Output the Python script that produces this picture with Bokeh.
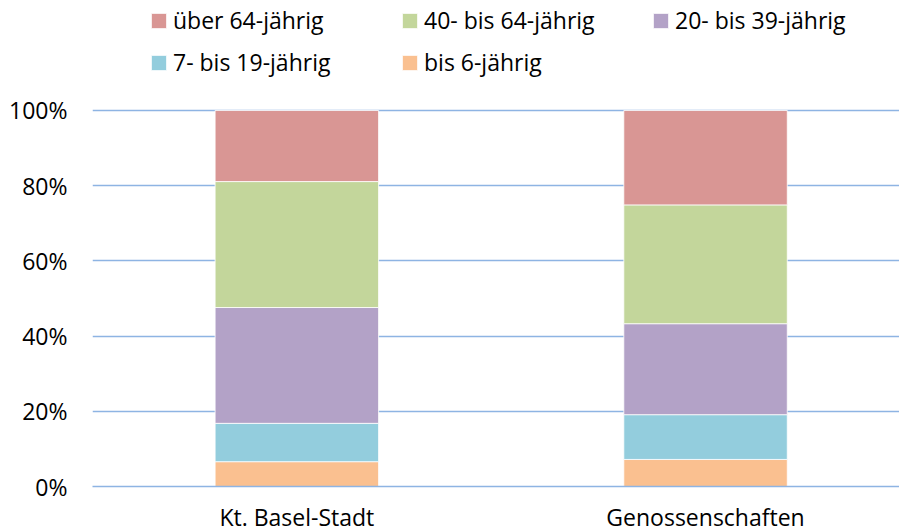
from bokeh.plotting import figure
from bokeh.models import (ColumnDataSource, Range1d, FixedTicker, PrintfTickFormatter,
                          Legend, LegendItem)
from bokeh.embed import file_html
from bokeh.resources import INLINE

# ---- data ----
categories = ["Kt. Basel-Stadt", "Genossenschaften"]
series_names = ["bis 6-jährig", "7- bis 19-jährig", "20- bis 39-jährig",
                "40- bis 64-jährig", "über 64-jährig"]
bis_6 = [6.6, 7.2]
j7_19 = [10.2, 11.9]
j20_39 = [30.8, 24.2]
j40_64 = [33.5, 31.6]
ueber_64 = [18.9, 25.1]
colors = ["#fac090", "#93cddd", "#b3a2c7", "#c3d69b", "#d99694"]
y_ticks = [0, 20, 40, 60, 80, 100]

FONT = "Open Sans"
FS = "23px"
GRID = "#8eb4e3"

keys = ["s0", "s1", "s2", "s3", "s4"]
xpos = [i + 0.5 for i in range(len(categories))]
source = ColumnDataSource(dict(x=xpos, s0=bis_6, s1=j7_19, s2=j20_39, s3=j40_64, s4=ueber_64))

# frame covers the legend area too (y above 100 is free space for the legend)
p = figure(frame_width=807, frame_height=486, output_backend="svg", toolbar_location=None,
           x_range=Range1d(0, 1.9746), y_range=Range1d(0, 129.255),
           min_border_left=92, min_border_right=0, min_border_top=0, min_border_bottom=45)
p.outline_line_color = None
p.background_fill_color = "white"
p.border_fill_color = "white"

renderers = p.vbar_stack(keys, x="x", width=0.4, color=colors, source=source,
                         line_color="white", line_width=0.8)

# axes
p.xaxis.ticker = FixedTicker(ticks=xpos)
p.xaxis.major_label_overrides = {x: c for x, c in zip(xpos, categories)}
p.yaxis.ticker = FixedTicker(ticks=y_ticks)
p.yaxis.formatter = PrintfTickFormatter(format="%d%%")
for ax in (p.xaxis[0], p.yaxis[0]):
    ax.major_tick_line_color = None
    ax.minor_tick_line_color = None
    ax.major_tick_out = 0
    ax.major_tick_in = 0
    ax.major_label_text_font = FONT
    ax.major_label_text_font_size = FS
    ax.major_label_text_color = "black"
p.yaxis.axis_line_color = None
p.xaxis.axis_line_color = GRID
p.xaxis.axis_line_width = 1.5
p.xaxis.major_label_standoff = 14
p.yaxis.major_label_standoff = 25

p.xgrid.grid_line_color = None
p.ygrid.ticker = FixedTicker(ticks=y_ticks[1:])
p.ygrid.grid_line_color = GRID
p.ygrid.grid_line_width = 1.5

# legend
order = [4, 3, 2, 1, 0]
items = [LegendItem(label=series_names[i], renderers=[renderers[i]]) for i in order]
legend = Legend(items=items, orientation="horizontal", ncols=3,
                location=(57, 408), padding=0, margin=0, spacing=10,
                glyph_width=19, glyph_height=19, label_standoff=5,
                label_width=217, label_height=28,
                label_text_font=FONT, label_text_font_size=FS, label_text_color="black",
                border_line_color=None, background_fill_alpha=0)
p.add_layout(legend, "center")

open("out.html", "w").write(file_html(p, INLINE))
